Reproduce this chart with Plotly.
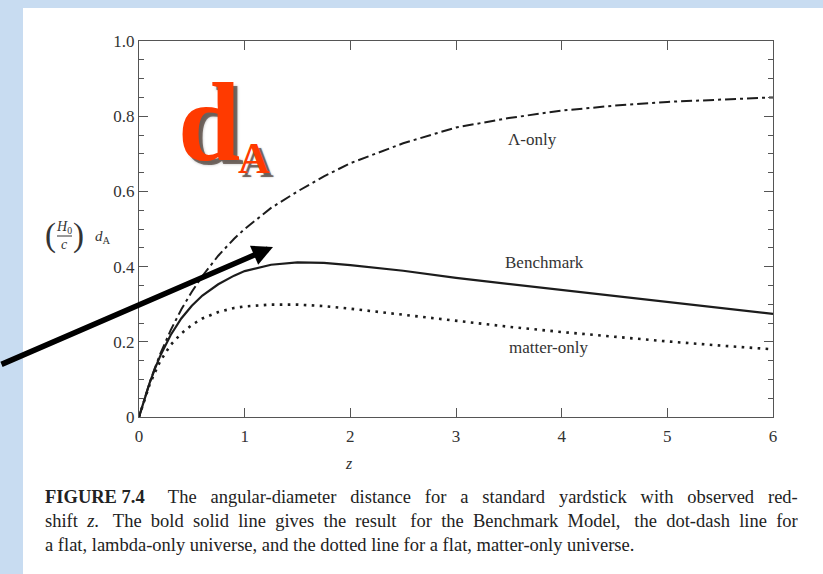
import plotly.graph_objects as go

# Redshift grid and angular-diameter distances (H0/c) d_A for three flat models
z = [0, 0.05, 0.1, 0.15, 0.2, 0.3, 0.4, 0.5, 0.6, 0.75, 0.9, 1.0, 1.25, 1.5,
     1.75, 2.0, 2.5, 3.0, 3.5, 4.0, 4.5, 5.0, 5.5, 6.0]
benchmark = [0, 0.047, 0.090, 0.128, 0.162, 0.218, 0.262, 0.296, 0.323, 0.353,
             0.376, 0.388, 0.405, 0.411, 0.410, 0.404, 0.389, 0.370, 0.354,
             0.338, 0.321, 0.305, 0.289, 0.274]
lambda_only = [0, 0.048, 0.091, 0.130, 0.167, 0.231, 0.286, 0.333, 0.375, 0.429,
               0.474, 0.500, 0.556, 0.600, 0.640, 0.675, 0.728, 0.770, 0.795,
               0.815, 0.828, 0.838, 0.845, 0.850]
matter_only = [0, 0.046, 0.086, 0.118, 0.148, 0.192, 0.222, 0.245, 0.262, 0.279,
               0.290, 0.294, 0.299, 0.299, 0.295, 0.288, 0.272, 0.256, 0.240,
               0.226, 0.213, 0.201, 0.190, 0.180]

x_ticks = [0, 1, 2, 3, 4, 5, 6]
y_ticks = [0, 0.2, 0.4, 0.6, 0.8, 1.0]
y_ticktext = ["0", "0.2", "0.4", "0.6", "0.8", "1.0"]

curve_labels = ["Λ-only", "Benchmark", "matter-only"]
curve_label_pos = [(3.72, 0.737), (3.84, 0.410), (3.88, 0.184)]

NB = "\u00a0"
# caption lines; word gaps are widened with non-breaking spaces to justify the block
caption_words = [
    (["<b>FIGURE 7.4</b>", "The", "angular-diameter", "distance", "for", "a", "standard",
      "yardstick", "with", "observed", "red-"],
     [5, 3, 3, 3, 3, 3, 3, 3, 3, 3]),
    (["shift", "<i>z</i>.", "The", "bold", "solid", "line", "gives", "the", "result", "for",
      "the", "Benchmark", "Model,", "the", "dot-dash", "line", "for"],
     [2, 3, 2, 2, 2, 2, 2, 2, 3, 2, 2, 2, 3, 2, 2, 2]),
    (["a", "flat,", "lambda-only", "universe,", "and", "the", "dotted", "line", "for", "a",
      "flat,", "matter-only", "universe."],
     [1] * 12),
]
caption_lines = []
for words, gaps in caption_words:
    s = words[0]
    for w, g in zip(words[1:], gaps):
        s += NB * g + w
    caption_lines.append(s)

W, H = 823, 574
L, R, T, B = 139, 50, 41, 157
PW, PH = W - L - R, H - T - B


def px(x):
    return (x - L) / PW


def py(y):
    return (H - B - y) / PH


SERIF = "Liberation Serif, Times New Roman, serif"
INK = "#1c1c1c"
AXIS = "#555555"
TXT = "#333333"

fig = go.Figure()
fig.add_trace(go.Scatter(x=z, y=lambda_only, mode="lines", name="Λ-only",
                         line=dict(color=INK, width=2, dash="11px,4px,3px,4px")))
fig.add_trace(go.Scatter(x=z, y=benchmark, mode="lines", name="Benchmark",
                         line=dict(color=INK, width=2.2)))
fig.add_trace(go.Scatter(x=z, y=matter_only, mode="lines", name="matter-only",
                         line=dict(color=INK, width=2.6, dash="2.6px,5.4px")))

annotations = []
for text, (xv, yv) in zip(curve_labels, curve_label_pos):
    annotations.append(dict(x=xv, y=yv, xref="x", yref="y", text=text, showarrow=False,
                            xanchor="center", yanchor="middle",
                            font=dict(family=SERIF, size=17, color=TXT)))


def note(xp, yp, text, size, color=TXT, **kw):
    return dict(x=px(xp), y=py(yp), xref="paper", yref="paper", text=text,
                showarrow=False, xanchor="center", yanchor="middle",
                font=dict(family=SERIF, size=size, color=color, **kw))


# y-axis title: (H0 / c) d_A
annotations += [
    note(50, 235, "(", 33),
    note(78, 235, ")", 33),
    note(64, 227, "<i>H</i><sub>0</sub>", 14),
    note(64, 244, "<i>c</i>", 14),
    note(103, 237, "<i>d</i><sub>A</sub>", 15),
    note(349, 463, "<i>z</i>", 16),
]

# big red d_A with a soft drop shadow
annotations += [
    note(213, 126, "<b>d</b>", 112, "rgba(40,20,10,0.55)",
         shadow="0px 0px 3px rgba(0,0,0,0.5)"),
    note(258, 162, "<b>A</b>", 44, "rgba(40,20,10,0.55)",
         shadow="0px 0px 2px rgba(0,0,0,0.5)"),
    note(209, 122, "<b>d</b>", 112, "#FF3A00"),
    note(254, 158, "<b>A</b>", 44, "#FF3A00"),
]

# pointer arrow
annotations.append(dict(x=px(273), y=py(247), xref="paper", yref="paper", text="",
                        showarrow=True, arrowhead=2, arrowsize=0.75, arrowwidth=5.5,
                        arrowcolor="#000000", ax=-273, ay=118, standoff=0))

# caption
for i, line in enumerate(caption_lines):
    annotations.append(dict(x=px(43), y=py(497 + 24 * i), xref="paper", yref="paper",
                            text=line, showarrow=False, xanchor="left", yanchor="middle",
                            font=dict(family=SERIF, size=18.5, color="#222222")))

shapes = [
    dict(type="rect", xref="paper", yref="paper", x0=px(23), x1=px(W + 5),
         y0=py(H + 5), y1=py(8), fillcolor="white", line=dict(width=0), layer="below"),
    dict(type="line", xref="paper", yref="paper", x0=px(57), x1=px(72),
         y0=py(236), y1=py(236), line=dict(color=TXT, width=1)),
]

fig.update_layout(
    width=W, height=H,
    margin=dict(l=L, r=R, t=T, b=B),
    paper_bgcolor="#C8DCF1",
    plot_bgcolor="white",
    showlegend=False,
    annotations=annotations,
    shapes=shapes,
    font=dict(family=SERIF, color=TXT),
)
fig.update_xaxes(range=[0, 6], tickvals=x_ticks, ticks="inside", ticklen=9,
                 tickcolor=AXIS, tickwidth=1.2, showline=True, linecolor=AXIS,
                 linewidth=1.4, mirror="ticks", showgrid=False, zeroline=False,
                 ticklabelstandoff=3,
                 tickfont=dict(family=SERIF, size=17, color=TXT))
fig.update_yaxes(range=[0, 1], tickvals=y_ticks, ticktext=y_ticktext, ticks="inside",
                 ticklen=9, tickcolor=AXIS, tickwidth=1.2, showline=True, linecolor=AXIS,
                 linewidth=1.4, mirror="ticks", showgrid=False, zeroline=False,
                 tickfont=dict(family=SERIF, size=17, color=TXT),
                 minor=dict(dtick=0.05, ticks="inside", ticklen=5, tickcolor=AXIS,
                            showgrid=False))

fig.write_html("out.html")
